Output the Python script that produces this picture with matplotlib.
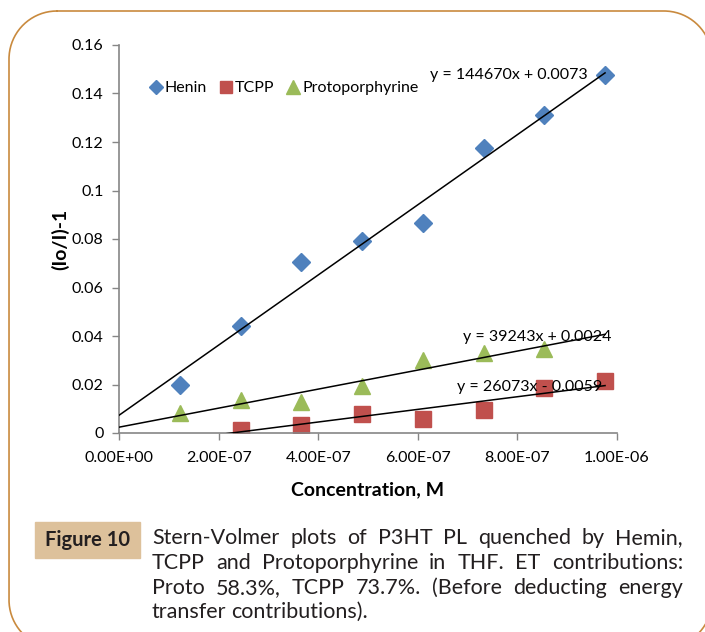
import numpy as np
import matplotlib.pyplot as plt
from matplotlib.patches import Rectangle
from matplotlib.lines import Line2D

plt.rcParams['font.family'] = ['Lato', 'DejaVu Sans']

# data
conc = [1.22e-7, 2.44e-7, 3.66e-7, 4.88e-7, 6.10e-7, 7.32e-7, 8.54e-7, 9.76e-7]
henin = [0.020, 0.044, 0.0705, 0.079, 0.0866, 0.1175, 0.131, 0.1476]
tcpp_conc = conc[1:]
tcpp = [0.0013, 0.0032, 0.0080, 0.0058, 0.0093, 0.0187, 0.0215]
proto_conc = conc[:7]
proto = [0.0082, 0.0136, 0.0128, 0.0194, 0.0300, 0.0330, 0.0346]

# trendlines (slope, intercept) as printed on the chart
fits = {'Henin': (144670, 0.0073), 'Proto': (39243, 0.0024), 'TCPP': (26073, -0.0059)}
fit_labels = ['y = 144670x + 0.0073', 'y = 39243x + 0.0024', 'y = 26073x - 0.0059']

xticks = [0, 2e-7, 4e-7, 6e-7, 8e-7, 1e-6]
xticklabels = ['0.00E+00', '2.00E-07', '4.00E-07', '6.00E-07', '8.00E-07', '1.00E-06']
yticks = [0, 0.02, 0.04, 0.06, 0.08, 0.1, 0.12, 0.14, 0.16]
yticklabels = ['0', '0.02', '0.04', '0.06', '0.08', '0.1', '0.12', '0.14', '0.16']

W, H = 705, 632
fig = plt.figure(figsize=(W / 100, H / 100), dpi=100)
ax = fig.add_axes([119 / W, 199 / H, 498 / W, 388 / H])

blue, red, green = '#4F81BD', '#C0504D', '#9BBB59'
gray = '#868686'

xf = np.array([0, conc[-1]])
for key in ['Henin', 'Proto', 'TCPP']:
    m, b = fits[key]
    ax.plot(xf, m * xf + b, color='black', lw=1.1, zorder=3)

ax.plot(conc, henin, 'D', color=blue, ms=9.5, mec=blue, label='Henin', zorder=2)
ax.plot(tcpp_conc, tcpp, 's', color=red, ms=11, mec=red, label='TCPP', zorder=2)
ax.plot(proto_conc, proto, '^', color=green, ms=12, mec=green, label='Protoporphyrine', zorder=2)

ax.set_xlim(0, 1e-6)
ax.set_ylim(0, 0.16)
ax.set_xticks(xticks)
ax.set_xticklabels(xticklabels)
ax.set_yticks(yticks)
ax.set_yticklabels(yticklabels)
for s in ['top', 'right']:
    ax.spines[s].set_visible(False)
for s in ['left', 'bottom']:
    ax.spines[s].set_color(gray)
    ax.spines[s].set_linewidth(1.2)
ax.tick_params(colors=gray, labelcolor='black', labelsize=11.5, length=5, width=1)
ax.tick_params(axis='x', pad=8)
ax.tick_params(axis='y', pad=6)
ax.set_facecolor('none')

ax.set_xlabel('Concentration, M', fontsize=14, fontweight='bold', labelpad=12)
ax.set_ylabel('(Io/I)-1', fontsize=14, fontweight='bold', labelpad=2)

# trendline equations
ax.text(7.82e-7, 0.1477, fit_labels[0], fontsize=11.5, ha='center', va='center')
ax.text(8.4e-7, 0.0395, fit_labels[1], fontsize=11.5, ha='center', va='center')
ax.text(8.25e-7, 0.0189, fit_labels[2], fontsize=11.5, ha='center', va='center')

ax.legend(loc='center left', bbox_to_anchor=(0.045, 0.889), ncol=3, frameon=False,
          fontsize=11.5, handletextpad=0.05, columnspacing=0.7, handlelength=1.0,
          borderaxespad=0, markerscale=0.8)

# rounded frame around the page (sampled arcs, partly outside the canvas)
left, right, top, bottom, rad = 9, 712, 621, -16, 48
corners = [((left + rad, top - rad), 90, 180),
           ((left + rad, bottom + rad), 180, 270),
           ((right - rad, bottom + rad), 270, 360),
           ((right - rad, top - rad), 0, 90)]
px, py = [], []
for (cx, cy), a0, a1 in corners:
    t = np.radians(np.linspace(a0, a1, 40))
    px.extend(cx + rad * np.cos(t))
    py.extend(cy + rad * np.sin(t))
px.append(px[0])
py.append(py[0])
frame = Line2D(np.array(px) / 100, np.array(py) / 100, transform=fig.dpi_scale_trans,
               color='#C98A3E', lw=1.2)
fig.add_artist(frame)

# caption
tag = Rectangle((35 / W, (H - 558) / H), 105 / W, 36 / H, transform=fig.transFigure,
                color='#DDC19B', zorder=1)
fig.patches.append(tag)
fig.text(87.5 / W, (H - 540) / H, 'Figure 10', fontsize=14.5, fontweight='bold',
         ha='center', va='center', color='#231F20')

caption = ['Stern-Volmer plots of P3HT PL quenched by Hemin,',
           'TCPP and Protoporphyrine in THF. ET contributions:',
           'Proto 58.3%, TCPP 73.7%. (Before deducting energy',
           'transfer contributions).']
cap_base = [544, 569, 594, 618]
x0, x1 = 152, 683
r = fig.canvas.get_renderer()
for i, line in enumerate(caption):
    words = line.split()
    texts = [fig.text(0, (H - cap_base[i]) / H, w, fontsize=15.5, va='baseline',
                      color='#231F20') for w in words]
    widths = [t.get_window_extent(r).width for t in texts]
    if i < len(caption) - 1:
        gap = (x1 - x0 - sum(widths)) / (len(words) - 1)
    else:
        gap = 5
    x = x0
    for t, w in zip(texts, widths):
        t.set_x(x / W)
        x += w + gap

fig.savefig('out.png', dpi=100)
